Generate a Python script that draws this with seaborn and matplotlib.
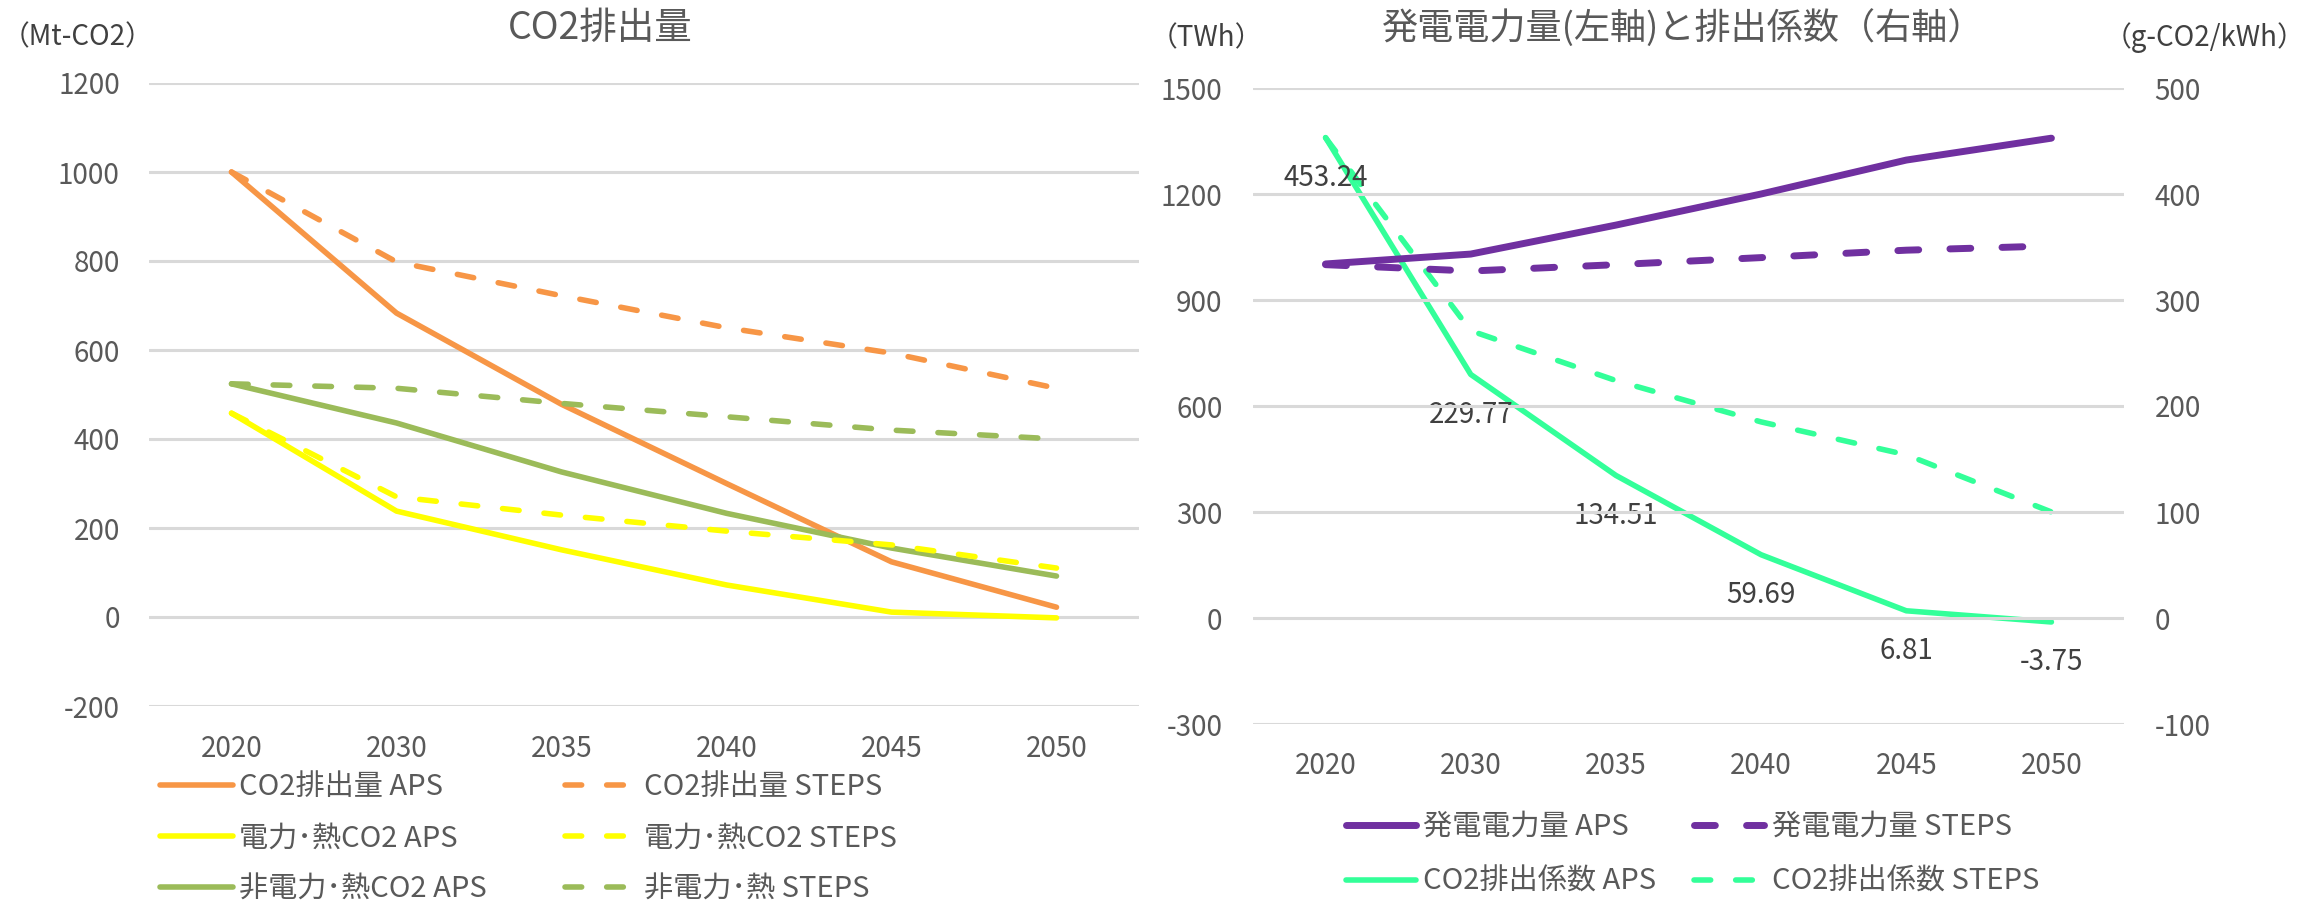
import numpy as np
import pandas as pd
import matplotlib
matplotlib.use("Agg")
import matplotlib.pyplot as plt
import seaborn as sns

# ---------------- data ----------------
years = ["2020", "2030", "2035", "2040", "2045", "2050"]

co2_aps = [1000, 683, 478, 300, 124, 22]
co2_steps = [1000, 798, 722, 650, 593, 514]
power_aps = [458, 238, 151, 72, 11, -2]
power_steps = [458, 270, 229, 193, 162, 110]
nonpower_aps = [524, 436, 326, 233, 155, 92]
nonpower_steps = [524, 514, 480, 450, 420, 400]

gen_aps = [1002, 1030, 1112, 1200, 1296, 1358]
gen_steps = [1000, 982, 1000, 1020, 1041, 1053]
ef_aps = [453.24, 229.77, 134.51, 59.69, 6.81, -3.75]
ef_steps = [453, 271, 224, 185, 154, 100]

left_title = "CO2排出量"
right_title = "発電電力量(左軸)と排出係数（右軸）"
left_unit = "（Mt-CO2）"
right_unit_l = "（TWh）"
right_unit_r = "（g-CO2/kWh）"

left_series = [
    ("CO2排出量 APS", co2_aps, "#F79646", "-"),
    ("電力･熱CO2 APS", power_aps, "#FFFF00", "-"),
    ("非電力･熱CO2 APS", nonpower_aps, "#9BBB59", "-"),
    ("CO2排出量 STEPS", co2_steps, "#F79646", "--"),
    ("電力･熱CO2 STEPS", power_steps, "#FFFF00", "--"),
    ("非電力･熱 STEPS", nonpower_steps, "#9BBB59", "--"),
]

# ---------------- style ----------------
sns.set_theme(style="white")
FONT = ["Noto Sans CJK JP", "DejaVu Sans"]
plt.rcParams["font.family"] = FONT
plt.rcParams["axes.unicode_minus"] = False

TICK_C = "#595959"
GRID_C = "#D9D9D9"
W, H = 2310, 902
fig = plt.figure(figsize=(W / 100, H / 100), dpi=100)


def rect(x0, y0, x1, y1):
    return [x0 / W, 1 - y1 / H, (x1 - x0) / W, (y1 - y0) / H]


pos = np.arange(len(years))


def draw(ax, x, y, color, ls, lw, label):
    kw = dict(dash_capstyle="round", solid_capstyle="round", solid_joinstyle="round")
    if ls == "--":
        kw["linestyle"] = (0, (3.0, 4.5))
    df = pd.DataFrame({"x": x, "y": y})
    sns.lineplot(data=df, x="x", y="y", ax=ax, color=color, linewidth=lw,
                 label=label, legend=False, **kw)


def style_axes(ax, ylim, yticks):
    ax.set_xlim(-0.5, len(years) - 0.5)
    ax.set_ylim(*ylim)
    ax.set_yticks(yticks)
    ax.set_xticks(pos)
    ax.set_xticklabels(years)
    ax.set_xlabel("")
    ax.set_ylabel("")
    for s in ax.spines.values():
        s.set_visible(False)
    ax.grid(axis="y", color=GRID_C, linewidth=2.2)
    ax.grid(axis="x", visible=False)
    ax.set_axisbelow(True)
    ax.tick_params(axis="both", length=0, labelsize=20, labelcolor=TICK_C)


# ---------------- left chart ----------------
axL = fig.add_axes(rect(149, 83, 1139, 706))
for label, vals, col, ls in left_series:
    draw(axL, pos, vals, col, ls, 4.0, label)
style_axes(axL, (-200, 1200), np.arange(-200, 1201, 200))
axL.tick_params(axis="y", pad=21)
axL.tick_params(axis="x", pad=20)

fig.text(600 / W, 1 - 28 / H, left_title, ha="center", va="center",
         fontsize=27, color=TICK_C)
fig.text(2 / W, 1 - 37 / H, left_unit, ha="left", va="center",
         fontsize=20, color="#404040")

hL, lL = axL.get_legend_handles_labels()
legL = fig.legend(hL, lL, ncol=2, loc="upper left",
                  bbox_to_anchor=(160 / W, 1 - 772 / H),
                  frameon=False, fontsize=21, handlelength=2.5,
                  handletextpad=0.2, columnspacing=2.7, labelspacing=0.73,
                  borderpad=0, borderaxespad=0)
for t in legL.get_texts():
    t.set_color(TICK_C)

# ---------------- right chart ----------------
axR = fig.add_axes(rect(1253, 88, 2124, 724))
draw(axR, pos, gen_aps, "#7030A0", "-", 5.0, "発電電力量 APS")
style_axes(axR, (-300, 1500), np.arange(-300, 1501, 300))
axR.tick_params(axis="y", pad=22)
axR.tick_params(axis="x", pad=19.5)

axR2 = axR.twinx()
axR.set_zorder(axR2.get_zorder() + 1)
axR.patch.set_visible(False)
draw(axR2, pos, ef_aps, "#33FF99", "-", 4.0, "CO2排出係数 APS")
draw(axR2, pos, ef_steps, "#33FF99", "--", 4.0, "CO2排出係数 STEPS")
axR2.set_ylim(-100, 500)
axR2.set_yticks(np.arange(-100, 501, 100))
axR2.set_ylabel("")
for s in axR2.spines.values():
    s.set_visible(False)
axR2.grid(False)
axR2.tick_params(axis="y", length=0, labelsize=20, labelcolor=TICK_C, pad=22)

draw(axR, pos, gen_steps, "#7030A0", "--", 5.0, "発電電力量 STEPS")
axR.set_ylim(-300, 1500)
axR.set_xlim(-0.5, len(years) - 0.5)
axR.set_xlabel("")
axR.set_ylabel("")

for x, v in zip(pos, ef_aps):
    axR2.annotate(f"{v:.2f}", xy=(x, v), xytext=(0, -29), textcoords="offset points",
                  ha="center", va="center", fontsize=20, color="#404040")

fig.text(1683 / W, 1 - 28 / H, right_title, ha="center", va="center",
         fontsize=26, color=TICK_C)
fig.text(1150 / W, 1 - 38 / H, right_unit_l, ha="left", va="center",
         fontsize=20, color="#404040")
fig.text(2104 / W, 1 - 38 / H, right_unit_r, ha="left", va="center",
         fontsize=20, color="#404040")

h1, l1 = axR.get_legend_handles_labels()
h2, l2 = axR2.get_legend_handles_labels()
hR = [h1[0], h2[0], h1[1], h2[1]]
lR = [l1[0], l2[0], l1[1], l2[1]]
legR = fig.legend(hR, lR, ncol=2, loc="upper left",
                  bbox_to_anchor=(1346 / W, 1 - 812 / H),
                  frameon=False, fontsize=21, handlelength=2.4,
                  handletextpad=0.25, columnspacing=1.3, labelspacing=0.86,
                  borderpad=0, borderaxespad=0)
for t in legR.get_texts():
    t.set_color(TICK_C)

fig.savefig("out.png", dpi=100, facecolor="white")
